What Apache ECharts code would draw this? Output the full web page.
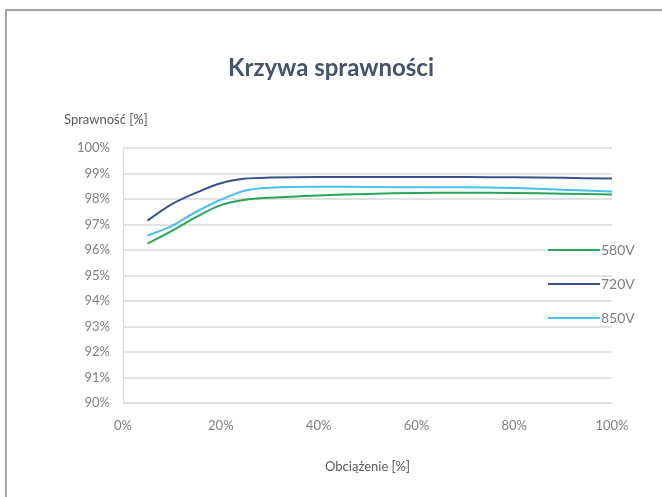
<!DOCTYPE html>
<html><head><meta charset="utf-8">
<script src="https://cdn.jsdelivr.net/npm/echarts@6/dist/echarts.min.js"></script>
<style>html,body{margin:0;padding:0;background:#fff}#c{width:662px;height:497px}</style>
</head><body><div id="c"></div>
<script>
const loads = [5, 10, 15, 20, 25, 30, 40, 50, 60, 70, 80, 90, 100];
const v580 = [96.25, 96.75, 97.3, 97.76, 97.97, 98.05, 98.14, 98.2, 98.24, 98.25, 98.24, 98.21, 98.18];
const v720 = [97.15, 97.8, 98.25, 98.62, 98.8, 98.84, 98.86, 98.86, 98.86, 98.86, 98.85, 98.83, 98.8];
const v850 = [96.57, 96.95, 97.5, 97.97, 98.33, 98.44, 98.48, 98.47, 98.46, 98.46, 98.43, 98.36, 98.29];
const seriesNames = ['580V', '720V', '850V'];
const xTicks = [0, 20, 40, 60, 80, 100];
const yTicks = [90, 91, 92, 93, 94, 95, 96, 97, 98, 99, 100];

const font = 'Lato, "Open Sans", sans-serif';
const colors = ['#2aa558', '#3d5089', '#46c1f0'];
const mk = a => loads.map((x, i) => [x, a[i]]);
const chart = echarts.init(document.getElementById('c'));
chart.setOption({
  animation: false,
  textStyle: { fontFamily: font },
  graphic: [{ type: 'rect', shape: { x: 6, y: 10, width: 700, height: 600 }, style: { fill: 'none', stroke: '#a6a6a6', lineWidth: 2 }, silent: true }],
  title: { text: 'Krzywa sprawności', left: 'center', top: 51, textStyle: { fontFamily: font, fontSize: 24, fontWeight: 'bold', color: '#44546a' } },
  grid: { left: 123, right: 50, top: 148, bottom: 94 },
  legend: {
    orient: 'vertical', left: 543, top: 238, itemWidth: 52, itemHeight: 2, itemGap: 20,
    icon: 'rect', data: seriesNames,
    textStyle: { fontFamily: font, fontSize: 14, color: '#7f7f7f', padding: [0, 0, 0, -4] }
  },
  xAxis: {
    type: 'value', min: 0, max: 100, interval: 20,
    name: 'Obciążenie [%]', nameLocation: 'middle', nameGap: 57,
    nameTextStyle: { fontFamily: font, fontSize: 13, color: '#595959' },
    axisLine: { show: true, lineStyle: { color: '#d9d9d9', width: 1 } },
    axisTick: { show: false }, splitLine: { show: false },
    axisLabel: { fontFamily: font, fontSize: 13, color: '#7f7f7f', margin: 16, formatter: v => xTicks.includes(v) ? v + '%' : '' }
  },
  yAxis: {
    type: 'value', min: 90, max: 100, interval: 1,
    name: 'Sprawność [%]', nameLocation: 'end', nameGap: 22,
    nameTextStyle: { fontFamily: font, fontSize: 13, color: '#595959', align: 'left', padding: [0, 0, 0, -59] },
    axisLine: { show: true, lineStyle: { color: '#d9d9d9', width: 1 } },
    axisTick: { show: false },
    splitLine: { lineStyle: { color: '#d9d9d9', width: 1.5 } },
    axisLabel: { fontFamily: font, fontSize: 13, color: '#7f7f7f', margin: 13, formatter: v => yTicks.includes(v) ? v + '%' : '' }
  },
  series: [v580, v720, v850].map((a, i) => ({
    name: seriesNames[i], type: 'line', data: mk(a), smooth: 0.3, showSymbol: false,
    lineStyle: { width: 2, color: colors[i] }, itemStyle: { color: colors[i] }
  }))
});
</script></body></html>
